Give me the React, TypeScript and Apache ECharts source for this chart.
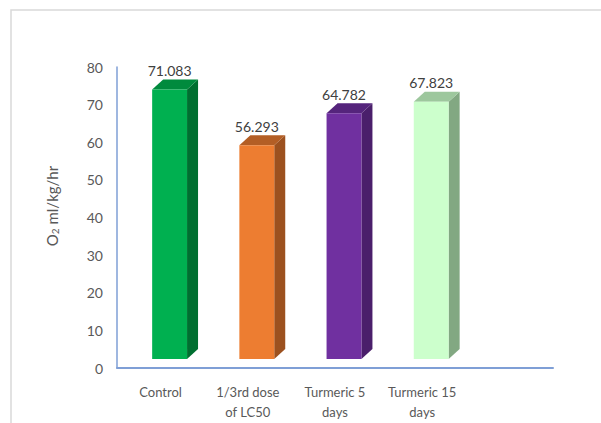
import React, { useEffect, useRef } from "react";
import * as echarts from "echarts";

const categories = ["Control", "1/3rd dose\nof LC50", "Turmeric 5\ndays", "Turmeric 15\ndays", ""];
const values = [71.083, 56.293, 64.782, 67.823];
const frontColors = ["#00b050", "#ed7d31", "#7030a0", "#ccffcc"];
const sideColors = ["#006f30", "#9c511f", "#4a1f6b", "#82a882"];
const topColors = ["#008a3d", "#b35e25", "#55247c", "#9dc79d"];
const yTicks = { min: 0, max: 80, interval: 10 };

export default function App() {
  const ref = useRef<HTMLDivElement>(null);
  useEffect(() => {
    if (!ref.current) return;
    const chart = echarts.init(ref.current, null, { renderer: "svg" });
    const font = "Lato, 'Open Sans', sans-serif";
    chart.setOption({
      animation: false,
      backgroundColor: "#ffffff",
      grid: { left: 117, right: 48, top: 67, bottom: 55 },
      graphic: [
        {
          type: "rect",
          shape: { x: 11, y: 10, width: 800, height: 600 },
          style: { fill: "none", stroke: "#d9d9d9", lineWidth: 1.5 },
          silent: true,
        },
        {
          type: "text",
          x: 52,
          y: 206,
          rotation: Math.PI / 2,
          style: {
            text: "O{sub|2} ml/kg/hr",
            align: "center",
            verticalAlign: "middle",
            fill: "#595959",
            font: `15px ${font}`,
            rich: {
              sub: { fontSize: 10, fill: "#595959", verticalAlign: "bottom", padding: [6, 0, 0, 0], fontFamily: font },
            },
          },
        },
      ],
      xAxis: {
        type: "category",
        data: categories,
        axisLine: { show: true, lineStyle: { color: "#7f9fd6", width: 2 } },
        axisTick: { show: false },
        axisLabel: {
          interval: 0,
          color: "#595959",
          fontSize: 13,
          fontFamily: font,
          lineHeight: 20,
          margin: 14,
        },
      },
      yAxis: {
        type: "value",
        min: yTicks.min,
        max: yTicks.max,
        interval: yTicks.interval,
        axisLine: { show: true, lineStyle: { color: "#7f9fd6", width: 1.5 } },
        axisTick: { show: false },
        splitLine: { show: false },
        axisLabel: { color: "#595959", fontSize: 14, fontFamily: font, margin: 14 },
      },
      series: [
        {
          type: "custom",
          data: values.map((v, i) => [i, v]),
          encode: { x: 0, y: 1 },
          renderItem: (params: any, api: any) => {
            const i = api.value(0);
            const v = api.value(1);
            const topPt = api.coord([i, v]);
            const basePt = api.coord([i, 0]);
            const bw = api.size([1, 0])[0] * 0.4;
            const cx = topPt[0] + 9;
            const fl = cx - bw / 2;
            const fr = cx + bw / 2;
            const ft = topPt[1] - 11;
            const fb = basePt[1] - 9;
            const dx = 11;
            const dy = 10;
            return {
              type: "group",
              children: [
                {
                  type: "polygon",
                  shape: { points: [[fr, ft], [fr + dx, ft - dy], [fr + dx, fb - dy], [fr, fb]] },
                  style: { fill: sideColors[i] },
                },
                {
                  type: "polygon",
                  shape: { points: [[fl, ft], [fr, ft], [fr + dx, ft - dy], [fl + dx, ft - dy]] },
                  style: { fill: topColors[i] },
                },
                {
                  type: "rect",
                  shape: { x: fl, y: ft, width: bw, height: fb - ft },
                  style: { fill: frontColors[i] },
                },
                {
                  type: "text",
                  x: cx,
                  y: ft - dy - 2,
                  style: {
                    text: v.toFixed(3),
                    align: "center",
                    verticalAlign: "bottom",
                    fill: "#404040",
                    font: `14px ${font}`,
                  },
                },
              ],
            };
          },
        },
      ],
    });
    return () => chart.dispose();
  }, []);
  return (
    <div
      ref={ref}
      style={{ position: "fixed", left: 0, top: 0, width: 601, height: 423 }}
    />
  );
}
